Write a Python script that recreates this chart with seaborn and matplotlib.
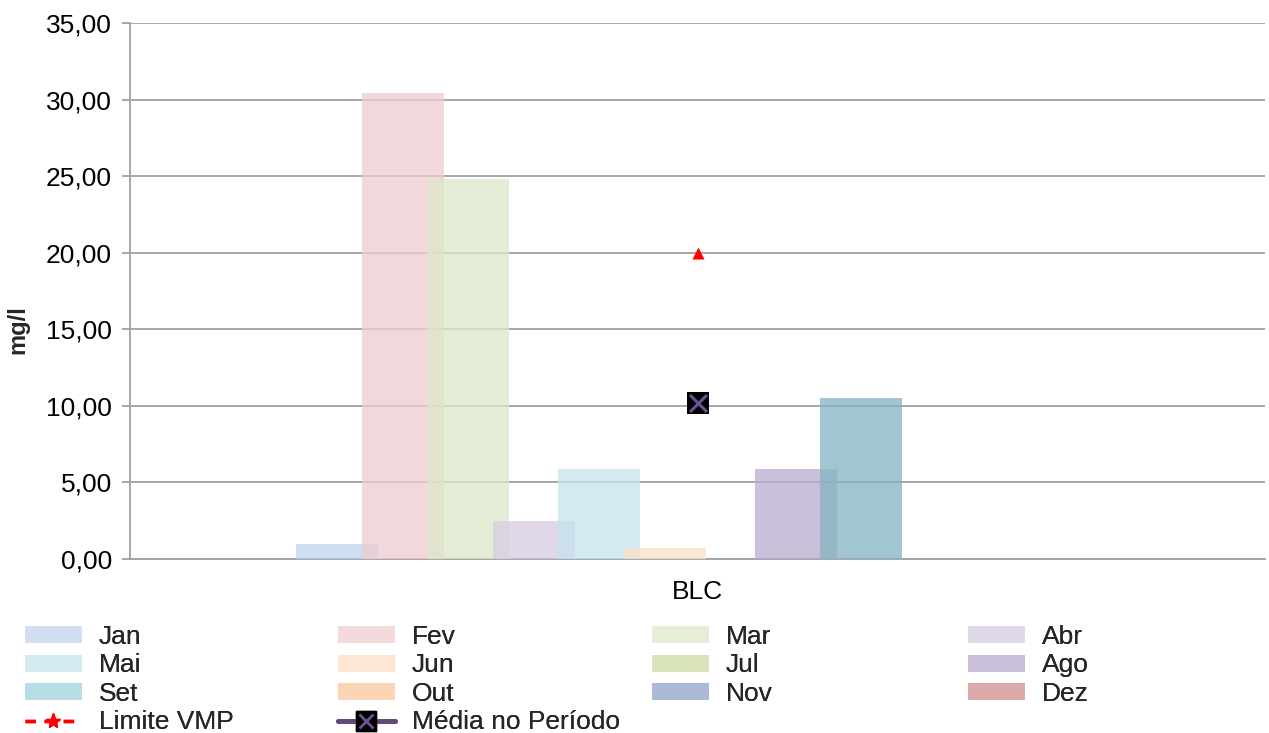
import numpy as np
import pandas as pd
import matplotlib
matplotlib.use("Agg")
import matplotlib.pyplot as plt
import seaborn as sns
from matplotlib.patches import Patch
from matplotlib.lines import Line2D
from matplotlib.legend_handler import HandlerTuple
from matplotlib.ticker import FuncFormatter, MultipleLocator
from matplotlib.colors import to_rgb

# Monthly concentration at the station (mg/l); empty months have no sample
months = ["Jan", "Fev", "Mar", "Abr", "Mai", "Jun", "Jul", "Ago", "Set", "Out", "Nov", "Dez"]
values = [1.0, 30.4, 24.8, 2.5, 5.9, 0.7, np.nan, 5.9, 10.5, np.nan, np.nan, np.nan]
station = "BLC"
limite_vmp = 20.0
media_periodo = 10.2

# Swatch colours as they look on white
swatch_colors = ["#d0dff2", "#f2d9da", "#e5eed6", "#e0d9e9", "#d3eaf0", "#fde6d4",
                 "#d8e4bc", "#cbc0da", "#b7dde6", "#fcd5b5", "#aabbd8", "#dba9a9"]
bar_colors = list(swatch_colors)
bar_colors[8] = "#a2c7d1"
alpha = 0.75


def base_for(color, a):
    rgb = np.array(to_rgb(color))
    return tuple(np.clip(1 - (1 - rgb) / a, 0, 1))


palette = {m: base_for(c, alpha) for m, c in zip(months, bar_colors)}

sns.set_theme(style="white")
plt.rcParams["font.family"] = ["Liberation Sans", "DejaVu Sans"]

W, H = 1269, 733
fig = plt.figure(figsize=(W / 100, H / 100), dpi=100)
ax = fig.add_axes([130 / W, (H - 559) / H, (1265 - 130) / W, (559 - 23) / H])

df = pd.DataFrame({"estacao": [station] * len(months), "mes": months, "valor": values})
group_width = 0.6925
sns.barplot(data=df, x="estacao", y="valor", hue="mes", hue_order=months,
            palette=palette, width=group_width, dodge=True, saturation=1,
            alpha=alpha, linewidth=0, legend=False, ax=ax)

# Overlapping clustered bars: widen each bar around its own centre
overlap_scale = 1.248
for p in ax.patches:
    w = p.get_width()
    cx = p.get_x() + w / 2
    p.set_width(w * overlap_scale)
    p.set_x(cx - w * overlap_scale / 2)

gray = "#a0a0a0"
sns.scatterplot(x=[0], y=[limite_vmp], marker="^", color="#ff0000", s=75,
                linewidth=0, ax=ax, zorder=5)
sns.scatterplot(x=[0], y=[media_periodo], marker="s", color="black", s=260,
                linewidth=0, ax=ax, zorder=5)
sns.scatterplot(x=[0], y=[media_periodo], marker="x", color="#6a5391", s=150,
                linewidth=2.2, ax=ax, zorder=6)

ax.set_xlim(-0.5, 0.5)
ax.set_ylim(0, 35)
ax.yaxis.set_major_locator(MultipleLocator(5))
ax.yaxis.set_major_formatter(FuncFormatter(lambda v, _: f"{v:.2f}".replace(".", ",")))
ax.set_xticks([0])
ax.set_xticklabels([station])
ax.set_xlabel("")
ax.set_ylabel("")
ax.yaxis.grid(True, color=gray, linewidth=1.3)
ax.set_axisbelow(False)
for p in ax.patches:
    p.set_zorder(3)
for gl in ax.get_ygridlines():
    gl.set_zorder(2)
for s in ["top", "right"]:
    ax.spines[s].set_visible(False)
for s in ["left", "bottom"]:
    ax.spines[s].set_color(gray)
    ax.spines[s].set_linewidth(1.3)
ax.tick_params(axis="y", left=True, length=6, width=1.3, color=gray, pad=7,
               labelsize=19, labelcolor="black")
ax.tick_params(axis="x", bottom=False, length=0, pad=15, labelsize=19, labelcolor="black")

fig.text(18 / W, 1 - 330 / H, "mg/l", rotation=90, ha="center", va="center",
         fontsize=17, fontweight="bold")

# Legend: four columns at fixed positions
patch_handles = {m: Patch(facecolor=c, edgecolor="none") for m, c in zip(months, swatch_colors)}
limite_handle = (Line2D([], [], color="#ff0000", linestyle=(0, (3, 2.5)), linewidth=2.5),
                 Line2D([], [], color="#ff0000", marker="*", markersize=11, linestyle="none"))
media_handle = (Line2D([], [], color="#604a7b", linewidth=3.5),
                Line2D([], [], color="black", marker="s", markersize=14, linestyle="none"),
                Line2D([], [], color="#6a5391", marker="x", markersize=10,
                       markeredgewidth=2, linestyle="none"))

columns = [
    (["Jan", "Mai", "Set"], [(limite_handle, "Limite VMP")], 25),
    (["Fev", "Jun", "Out"], [(media_handle, "Média no Período")], 338),
    (["Mar", "Jul", "Nov"], [], 652),
    (["Abr", "Ago", "Dez"], [], 968),
]
for mlist, extra, x0 in columns:
    handles = [patch_handles[m] for m in mlist] + [h for h, _ in extra]
    labels = list(mlist) + [l for _, l in extra]
    leg = fig.legend(handles, labels, loc="upper left",
                     bbox_to_anchor=(x0 / W, 1 - 625 / H), frameon=False,
                     fontsize=19, handlelength=2.15, handleheight=0.6,
                     handletextpad=0.65, labelspacing=0.17, borderpad=0,
                     borderaxespad=0,
                     handler_map={tuple: HandlerTuple(ndivide=1, pad=0)})
    fig.add_artist(leg)

fig.savefig("out.png", dpi=100)
